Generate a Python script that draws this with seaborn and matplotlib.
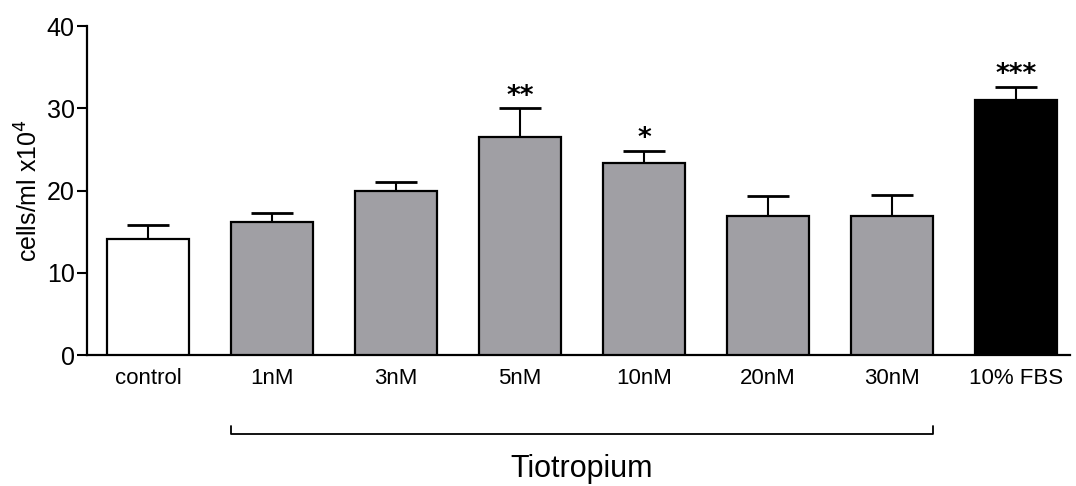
import numpy as np
import pandas as pd
import matplotlib
matplotlib.use('Agg')
import matplotlib.pyplot as plt
import seaborn as sns

categories = ['control', '1nM', '3nM', '5nM', '10nM', '20nM', '30nM', '10% FBS']
means = [14.1, 16.2, 19.9, 26.5, 23.4, 16.9, 16.95, 31.0]
errors = [1.65, 1.1, 1.15, 3.5, 1.4, 2.4, 2.45, 1.6]
stars = ['', '', '', '**', '*', '', '', '***']
colors = ['white', '#a09fa4', '#a09fa4', '#a09fa4', '#a09fa4', '#a09fa4', '#a09fa4', 'black']

sns.set_style('ticks')
plt.rcParams['font.family'] = ['Liberation Sans', 'DejaVu Sans']
plt.rcParams['text.color'] = 'black'
plt.rcParams['axes.labelcolor'] = 'black'
plt.rcParams['xtick.color'] = 'black'
plt.rcParams['ytick.color'] = 'black'
plt.rcParams['axes.edgecolor'] = 'black'

data = pd.DataFrame({'group': categories, 'value': means})

fig = plt.figure(figsize=(10.76, 4.86), dpi=100)
ax = fig.add_axes([0.081, 0.2695, 0.913, 0.677])

sns.barplot(data=data, x='group', y='value', hue='group', palette=colors,
            legend=False, width=0.66, edgecolor='black', linewidth=1.6,
            saturation=1, ax=ax, zorder=3)

xpos = np.arange(len(categories))
ax.errorbar(xpos, means, yerr=[np.zeros(len(means)), errors], fmt='none',
            ecolor='black', elinewidth=1.5, capsize=15, capthick=2, zorder=2)

# significance stars
for x, m, e, s in zip(xpos, means, errors, stars):
    if s:
        ax.annotate(s, (x, m + e), xytext=(0, -1), textcoords='offset points',
                    ha='center', va='bottom', fontsize=19, fontweight='bold',
                    family='DejaVu Sans')

ax.set_ylim(0, 40)
ax.set_yticks([0, 10, 20, 30, 40])
ax.set_xlim(-0.49, 7.43)
ax.set_xlabel('')
ax.set_ylabel('cells/ml x10$^4$', fontsize=18, labelpad=3)
ax.tick_params(axis='y', labelsize=18, length=7, width=1.5, pad=2)
ax.tick_params(axis='x', labelsize=16, length=0, pad=9)
sns.despine(ax=ax)
for sp in ['left', 'bottom']:
    ax.spines[sp].set_linewidth(1.6)

# bracket under the Tiotropium groups
trans = ax.get_xaxis_transform()
bx0 = xpos[1] - 0.33
bx1 = xpos[6] + 0.33
ax.plot([bx0, bx0, bx1, bx1], [-0.215, -0.24, -0.24, -0.215], color='black',
        lw=1.3, transform=trans, clip_on=False)
ax.text((bx0 + bx1) / 2, -0.345, 'Tiotropium', transform=trans, ha='center',
        va='center', fontsize=22)

fig.savefig('out.png', dpi=100)
